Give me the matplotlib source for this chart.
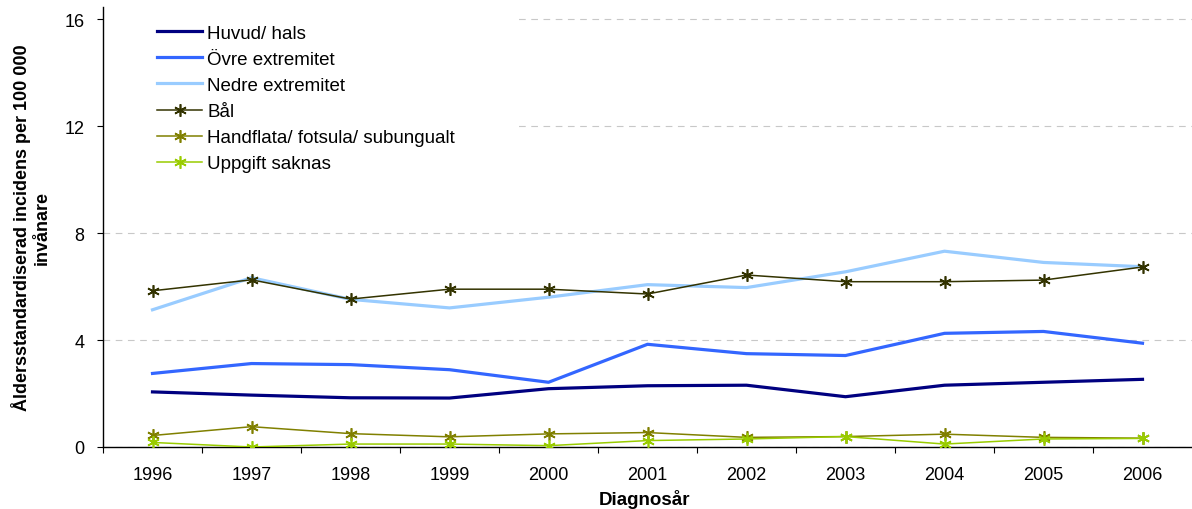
import matplotlib
matplotlib.use("Agg")
import matplotlib.pyplot as plt
from matplotlib.patches import Rectangle

plt.rcParams['font.family'] = ['Liberation Sans', 'DejaVu Sans']

# Data
years = [1996, 1997, 1998, 1999, 2000, 2001, 2002, 2003, 2004, 2005, 2006]
huvud_hals = [2.06, 1.94, 1.84, 1.83, 2.18, 2.29, 2.31, 1.88, 2.31, 2.42, 2.53]
ovre_extremitet = [2.75, 3.12, 3.08, 2.89, 2.42, 3.84, 3.49, 3.42, 4.25, 4.32, 3.88]
nedre_extremitet = [5.13, 6.33, 5.52, 5.2, 5.6, 6.07, 5.96, 6.55, 7.32, 6.9, 6.74]
bal = [5.84, 6.25, 5.53, 5.9, 5.9, 5.72, 6.43, 6.18, 6.18, 6.24, 6.73]
handflata = [0.43, 0.76, 0.5, 0.38, 0.49, 0.54, 0.36, 0.39, 0.48, 0.36, 0.33]
uppgift_saknas = [0.17, 0.0, 0.11, 0.11, 0.05, 0.24, 0.3, 0.39, 0.11, 0.3, 0.32]

y_ticks = [0, 4, 8, 12, 16]

fig = plt.figure(figsize=(11.92, 5.10), dpi=100)
W, H = 1192, 510
ax = fig.add_axes([103 / W, (H - 448) / H, (1192 - 103) / W, 440 / H])

star = (6, 2, 0)
ax.plot(years, huvud_hals, color="#000080", lw=2.3, label="Huvud/ hals", zorder=3)
ax.plot(years, ovre_extremitet, color="#3366FF", lw=2.3, label="Övre extremitet", zorder=3)
ax.plot(years, nedre_extremitet, color="#99CCFF", lw=2.3, label="Nedre extremitet", zorder=3)
ax.plot(years, bal, color="#333300", lw=1.1, marker=star, ms=9, mew=1.2,
        label="Bål", zorder=4)
ax.plot(years, handflata, color="#808000", lw=1.1, marker=star, ms=9, mew=1.2,
        label="Handflata/ fotsula/ subungualt", zorder=4)
ax.plot(years, uppgift_saknas, color="#99CC00", lw=1.1, marker=star, ms=9, mew=1.2,
        label="Uppgift saknas", zorder=4)

ax.set_xlim(1995.5, 2006.5)
ax.set_ylim(0, 16.45)
ax.set_yticks(y_ticks)
ax.set_xticks(years)
ax.set_xticks([y + 0.5 for y in years[:-1]] + [1995.5], minor=True)

ax.tick_params(axis='x', which='major', length=0, pad=13.5, labelsize=13)
ax.tick_params(axis='x', which='minor', direction='out', length=4, width=0.8)
ax.tick_params(axis='y', direction='out', length=4.5, width=0.8, pad=9, labelsize=13)

ax.grid(axis='y', color="#C8C8C8", linestyle=(0, (6, 5)), lw=0.8)
ax.set_axisbelow(True)
for s in ['top', 'right']:
    ax.spines[s].set_visible(False)
for s in ['left', 'bottom']:
    ax.spines[s].set_linewidth(1.0)

# white area behind the legend hides the gridlines there
ax.add_patch(Rectangle((0.001, 0.6), 0.381, 0.41, transform=ax.transAxes,
                       facecolor='white', edgecolor='none', zorder=1.5))

ax.legend(loc='upper left', bbox_to_anchor=(0.043, 0.977), frameon=False,
          fontsize=13.5, handlelength=2.4, handletextpad=0.27,
          labelspacing=0.48, borderaxespad=0)

fig.text(31 / W, (H - 228) / H,
         "Åldersstandardiserad incidens per 100 000\ninvånare",
         rotation=90, ha='center', va='center', ma='center',
         fontsize=13, fontweight='bold')
fig.text(645 / W, (H - 500) / H, "Diagnosår", ha='center', va='center',
         fontsize=13.5, fontweight='bold')

fig.savefig("out.png", dpi=100)
